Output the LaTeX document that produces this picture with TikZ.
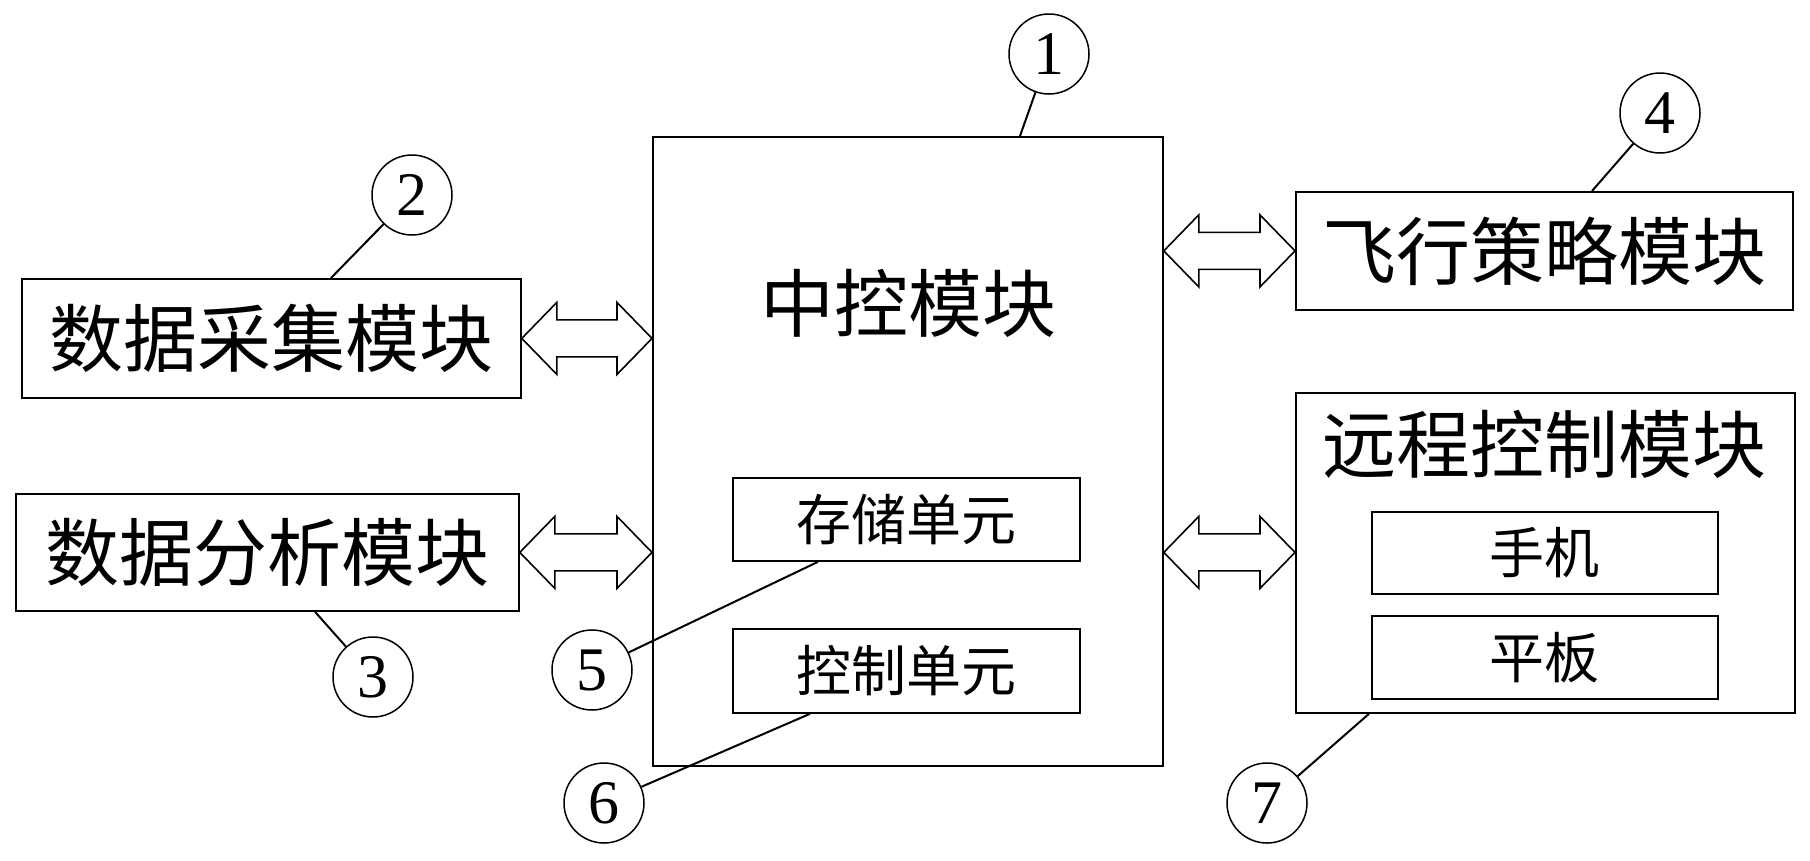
\documentclass[tikz,border=0pt]{standalone}
\usepackage{fontspec}
\setmainfont{Liberation Serif}
\newfontfamily\cjk{Noto Sans CJK SC}
\usetikzlibrary{calc}
\tikzset{
  box/.style={draw, line width=1.8pt, inner sep=0pt, anchor=north west},
  big/.style={font=\cjk\fontsize{74}{80}\selectfont},
  small/.style={font=\cjk\fontsize{55}{60}\selectfont},
  num/.style={draw, circle, line width=1.5pt, minimum size=80pt, inner sep=0pt, font=\fontsize{62}{66}\selectfont},
  lead/.style={line width=2pt},
  dbl/.style={line width=1.6pt, line join=miter},
}
\newcommand{\dbarrow}[2]{\draw[dbl] let \p1=#1, \p2=#2 in
  (\x1,\y1) -- (\x1+35pt,\y1+36pt) -- (\x1+35pt,\y1+18.5pt) -- (\x2-35pt,\y1+18.5pt)
  -- (\x2-35pt,\y1+36pt) -- (\x2,\y1) -- (\x2-35pt,\y1-36pt) -- (\x2-35pt,\y1-18.5pt)
  -- (\x1+35pt,\y1-18.5pt) -- (\x1+35pt,\y1-36pt) -- cycle;}
\begin{document}
\begin{tikzpicture}[x=1pt,y=-1pt]
\useasboundingbox[fill=white] (0,0) rectangle (1810,860);
% central module
\node[box, minimum width=510, minimum height=629] (cen) at (652,136) {};
\node[big] (cenlbl) at (908,303) {中控模块};
\node[box, small, minimum width=347, minimum height=83] (sto) at (732,477) {存储单元};
\node[box, small, minimum width=347, minimum height=84] (ctl) at (732,628) {控制单元};
% left modules
\node[box, big, minimum width=499, minimum height=119] (daq) at (21,278) {数据采集模块};
\node[box, big, minimum width=503, minimum height=117] (dan) at (15,493) {数据分析模块};
% right modules
\node[box, big, minimum width=497, minimum height=118] (fly) at (1295,191) {飞行策略模块};
\node[box, minimum width=499, minimum height=320] (rem) at (1295,392) {};
\node[big] (remlbl) at (1544,444) {远程控制模块};
\node[box, small, minimum width=346, minimum height=82] (phn) at (1371,511) {手机};
\node[box, small, minimum width=346, minimum height=83] (tab) at (1371,615) {平板};
% number circles
\node[num] (n1) at (1049,54) {1};
\node[num] (n2) at (412,195) {2};
\node[num] (n3) at (373,677) {3};
\node[num] (n4) at (1660,113) {4};
\node[num] (n5) at (592,670) {5};
\node[num] (n6) at (604,803) {6};
\node[num] (n7) at (1267,803) {7};
% leader lines
\coordinate (p1) at ($(cen.north west)+(368,0)$);
\coordinate (p2) at ($(daq.north west)+(310,0)$);
\coordinate (p3) at ($(dan.south west)+(300,0)$);
\coordinate (p4) at ($(fly.north west)+(297,0)$);
\coordinate (p5) at ($(sto.south west)+(86,0)$);
\coordinate (p6) at ($(ctl.south west)+(78,0)$);
\coordinate (p7) at ($(rem.south west)+(74,0)$);
\draw[lead] (p1) -- (n1);
\draw[lead] (p2) -- (n2);
\draw[lead] (p3) -- (n3);
\draw[lead] (p4) -- (n4);
\draw[lead] (p5) -- (n5);
\draw[lead] (p6) -- (n6);
\draw[lead] (p7) -- (n7);
% double arrows
\dbarrow{(daq.east)}{(daq.east -| cen.west)}
\dbarrow{(dan.east)}{(dan.east -| cen.west)}
\dbarrow{(fly.west -| cen.east)}{(fly.west)}
\dbarrow{(dan.east -| cen.east)}{(dan.east -| rem.west)}
\end{tikzpicture}
\end{document}
